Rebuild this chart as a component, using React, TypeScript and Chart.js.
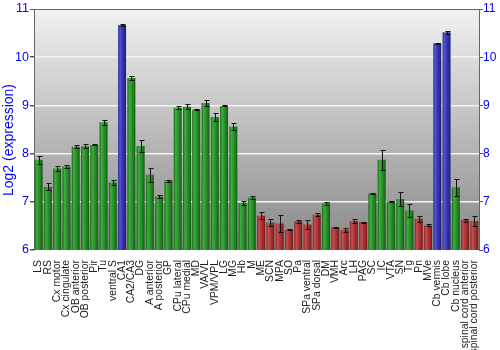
import React, { useEffect, useRef } from "react";
import { Chart, registerables } from "chart.js";

Chart.register(...registerables);

const labels = [
  "LS", "RS", "Cx motor", "Cx cingulate", "OB anterior", "OB posterior", "Pir", "Tu", "ventral S",
  "CA1", "CA2/CA3", "DG", "A anterior", "A posterior", "GP", "CPu lateral", "CPu medial", "MD",
  "VA/VL", "VPM/VPL", "LG", "MG", "Hb", "M", "ME", "SCN", "MPA", "SO", "Pa", "SPa ventral",
  "SPa dorsal", "DM", "VMH", "Arc", "LH", "PAG", "SC", "IC", "VTA", "SN", "Tg", "Pn", "MVe",
  "Cb vermis", "Cb lobe", "Cb nucleus", "spinal cord anterior", "spinal cord posterior",
];

const values = [
  7.87, 7.31, 7.69, 7.73, 8.14, 8.15, 8.18, 8.65, 7.40,
  10.67, 9.57, 8.16, 7.56, 7.11, 7.44, 8.95, 8.97, 8.91,
  9.05, 8.76, 8.99, 8.56, 6.98, 7.09, 6.71, 6.57, 6.55, 6.42, 6.60, 6.53,
  6.73, 6.97, 6.47, 6.42, 6.60, 6.58, 7.17, 7.87, 7.01, 7.06, 6.82, 6.65, 6.51,
  10.29, 10.52, 7.30, 6.62, 6.60,
];

const errors = [
  0.08, 0.07, 0.05, 0.03, 0.03, 0.04, 0.01, 0.05, 0.06,
  0.02, 0.04, 0.13, 0.15, 0.04, 0.02, 0.03, 0.05, 0.01,
  0.06, 0.09, 0.01, 0.08, 0.04, 0.04, 0.07, 0.08, 0.18, 0.01, 0.03, 0.10,
  0.03, 0.03, 0.01, 0.04, 0.04, 0.01, 0.01, 0.20, 0.01, 0.14, 0.14, 0.06, 0.02,
  0.01, 0.03, 0.17, 0.03, 0.11,
];

const groups = [
  "g", "g", "g", "g", "g", "g", "g", "g", "g",
  "b", "g", "g", "g", "g", "g", "g", "g", "g",
  "g", "g", "g", "g", "g", "g", "r", "r", "r", "r", "r", "r",
  "r", "g", "r", "r", "r", "r", "g", "g", "g", "g", "g", "r", "r",
  "b", "b", "g", "r", "r",
];

const yTicks = [6, 7, 8, 9, 10, 11];
const yTitle = "Log2 (expression)";

const BAR_PCT = 0.86;
const FONT = "'Liberation Sans', Arial, sans-serif";

const palette: Record<string, string[]> = {
  g: ["#166416", "#3fae3f", "#2c962c", "#1d7a1d", "#145414"],
  b: ["#2a2a9a", "#5555d0", "#3838b4", "#2a2a96", "#1c1c70"],
  r: ["#8a2222", "#c85050", "#b03838", "#962828", "#701818"],
};

const bgPlugin = {
  id: "bgGradient",
  beforeDraw(chart: any) {
    const { ctx, chartArea } = chart;
    if (!chartArea) return;
    const g = ctx.createLinearGradient(0, chartArea.top, 0, chartArea.bottom);
    g.addColorStop(0, "#f2f2f2");
    g.addColorStop(1, "#878787");
    ctx.save();
    ctx.fillStyle = g;
    ctx.fillRect(chartArea.left, chartArea.top, chartArea.right - chartArea.left, chartArea.bottom - chartArea.top);
    ctx.restore();
  },
};

const titlePlugin = {
  id: "yTitle",
  afterDraw(chart: any) {
    const { ctx } = chart;
    ctx.save();
    ctx.translate(9, 140);
    ctx.rotate(-Math.PI / 2);
    ctx.fillStyle = "#0000ff";
    ctx.font = `14px ${FONT}`;
    ctx.textAlign = "center";
    ctx.textBaseline = "middle";
    ctx.fillText(yTitle, 0, 0);
    ctx.restore();
  },
};

const errPlugin = {
  id: "errBars",
  afterDatasetsDraw(chart: any) {
    const { ctx } = chart;
    const meta = chart.getDatasetMeta(0);
    const ys = chart.scales.y;
    ctx.save();
    ctx.strokeStyle = "#111";
    ctx.lineWidth = 1;
    meta.data.forEach((bar: any, i: number) => {
      const x = Math.round(bar.x) + 0.5;
      const y1 = Math.round(ys.getPixelForValue(values[i] + errors[i])) + 0.5;
      const y2 = Math.round(ys.getPixelForValue(values[i] - errors[i])) + 0.5;
      ctx.beginPath();
      ctx.moveTo(x, y1);
      ctx.lineTo(x, y2);
      ctx.moveTo(x - 2, y1);
      ctx.lineTo(x + 3, y1);
      ctx.moveTo(x - 2, y2);
      ctx.lineTo(x + 3, y2);
      ctx.stroke();
    });
    ctx.restore();
  },
};

export default function App() {
  const ref = useRef<HTMLCanvasElement | null>(null);

  useEffect(() => {
    if (!ref.current) return;
    const chart = new Chart(ref.current, {
      type: "bar",
      data: {
        labels,
        datasets: [
          {
            data: values,
            borderWidth: 0,
            categoryPercentage: 1,
            barPercentage: BAR_PCT,
            backgroundColor: (c: any) => {
              const i = c.dataIndex;
              const chartObj = c.chart;
              const xs = chartObj.scales && chartObj.scales.x;
              const cols = palette[groups[i]] || palette.g;
              if (i === undefined || !xs || !xs.width) return cols[2];
              const cx = xs.getPixelForValue(i);
              const w = (xs.width / labels.length) * BAR_PCT;
              const g = chartObj.ctx.createLinearGradient(cx - w / 2, 0, cx + w / 2, 0);
              g.addColorStop(0, cols[0]);
              g.addColorStop(0.25, cols[1]);
              g.addColorStop(0.5, cols[2]);
              g.addColorStop(0.8, cols[3]);
              g.addColorStop(1, cols[4]);
              return g;
            },
          },
        ],
      },
      options: {
        responsive: false,
        animation: false,
        layout: { padding: { top: 9, left: 0, right: 0, bottom: 0 } },
        plugins: {
          legend: { display: false },
          tooltip: { enabled: false },
        },
        scales: {
          x: {
            grid: { display: false },
            border: { display: false },
            ticks: {
              autoSkip: false,
              maxRotation: 90,
              minRotation: 90,
              padding: 2,
              color: "#222",
              font: { family: FONT, size: 10.4 },
            },
            afterFit: (s: any) => {
              s.height = 100;
            },
          },
          y: {
            position: "left",
            min: 6,
            max: 11,
            afterBuildTicks: (s: any) => {
              s.ticks = yTicks.map((v) => ({ value: v }));
            },
            grid: {
              color: (c: any) =>
                c.tick && c.tick.value === 11 ? "#666" : c.tick && c.tick.value === 6 ? "rgba(0,0,0,0)" : "#f4f4f4",
              lineWidth: (c: any) => (c.tick && c.tick.value === 11 ? 1 : 1.5),
              tickColor: "#555",
              tickLength: 4,
            },
            border: { display: true, color: "#666" },
            ticks: {
              color: "#0000ff",
              padding: 1,
              font: { family: FONT, size: 12.5 },
            },
            title: { display: false },
            afterFit: (s: any) => {
              s.width = 34;
            },
          },
          y2: {
            position: "right",
            min: 6,
            max: 11,
            afterBuildTicks: (s: any) => {
              s.ticks = yTicks.map((v) => ({ value: v }));
            },
            grid: { drawOnChartArea: false, tickColor: "#555", tickLength: 4 },
            border: { display: true, color: "#666" },
            ticks: {
              color: "#0000ff",
              padding: 0,
              font: { family: FONT, size: 12 },
            },
            afterFit: (s: any) => {
              s.width = 21;
            },
          },
        },
      },
      plugins: [bgPlugin, errPlugin, titlePlugin],
    });
    return () => chart.destroy();
  }, []);

  return (
    <div style={{ position: "absolute", left: 0, top: 0, width: 500, height: 350 }}>
      <canvas ref={ref} width={500} height={350} style={{ display: "block" }} />
    </div>
  );
}
